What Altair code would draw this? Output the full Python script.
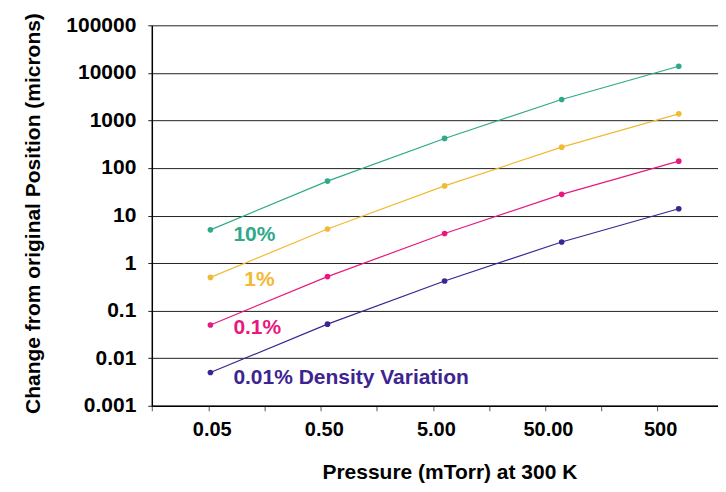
import altair as alt
import pandas as pd

# ---- data ----
pressure = [0.05, 0.5, 5, 50, 500]
series = ["10%", "1%", "0.1%", "0.01%"]
vals_10 = [5.0, 53, 418, 2750, 13800]
vals_1 = [0.50, 5.2, 42, 274, 1375]
vals_01 = [0.050, 0.52, 4.2, 27.9, 139]
vals_001 = [0.0050, 0.052, 0.42, 2.78, 13.9]
label_texts = ["10%", "1%", "0.1%", "0.01% Density Variation"]
colors = ["#2EA98A", "#F2B933", "#E8197E", "#3D2490"]
x_tick_labels = ["0.05", "0.50", "5.00", "50.00", "500"]
y_ticks = [0.001, 0.01, 0.1, 1, 10, 100, 1000, 10000, 100000]

FONT = "Liberation Sans"

all_vals = [vals_10, vals_1, vals_01, vals_001]
rows = []
for s, lab, vs in zip(series, label_texts, all_vals):
    for p, v in zip(pressure, vs):
        rows.append({"pressure": p, "value": v, "series": s, "label": lab})
df = pd.DataFrame(rows)
first_df = df[df["pressure"] == pressure[0]].reset_index(drop=True)

PLOT_W = 567
PLOT_H = 381

# data x scale (points spaced ~117 px per decade)
dec_data = 117.25
x_data_scale = alt.Scale(
    type="log",
    domain=[pressure[0] / 10 ** (58.7 / dec_data), pressure[-1] * 10 ** ((PLOT_W - 527.7) / dec_data)],
    nice=False,
)
# axis x scale (labels spaced ~112 px per decade, as in the reference)
dec_axis = 112.25
ax_min = pressure[0] / 10 ** (57 / dec_axis)
ax_max = pressure[-1] * 10 ** ((PLOT_W - 506) / dec_axis)
x_axis_scale = alt.Scale(type="log", domain=[ax_min, ax_max], nice=False)

tick_vals = [ax_min]
for p in pressure:
    tick_vals.append(p)
    if p != pressure[-1]:
        tick_vals.append(p * 10 ** 0.5)

vals_js = "[" + ",".join(repr(float(p)) for p in pressure) + "]"
labs_js = "[" + ",".join("'" + t + "'" for t in x_tick_labels) + "]"
label_expr = f"indexof({vals_js}, datum.value) >= 0 ? {labs_js}[indexof({vals_js}, datum.value)] : ''"

color_scale = alt.Scale(domain=series, range=colors)

y_enc = alt.Y(
    "value:Q",
    scale=alt.Scale(type="log", domain=[y_ticks[0], y_ticks[-1]], nice=False),
    axis=alt.Axis(
        values=y_ticks,
        format="~g",
        title="Change from original Position (microns)",
        grid=True,
        gridColor="#222222",
        gridWidth=1,
        domainColor="#000000",
        domainWidth=1.5,
        tickColor="#222222",
        tickSize=4,
        labelFont=FONT,
        labelFontSize=21,
        labelFontWeight="bold",
        labelColor="#000000",
        labelPadding=12,
        titleFont=FONT,
        titleFontSize=21,
        titleFontWeight="bold",
        titleColor="#000000",
        titlePadding=22,
        titleY=188,
    ),
)

x_data = alt.X("pressure:Q", scale=x_data_scale, axis=None)

axis_df = pd.DataFrame({"pressure": pressure})
axis_layer = alt.Chart(axis_df).mark_point(opacity=0).encode(
    x=alt.X(
        "pressure:Q",
        scale=x_axis_scale,
        axis=alt.Axis(
            orient="bottom",
            values=tick_vals,
            labelExpr=label_expr,
            title="Pressure (mTorr) at 300 K",
            grid=False,
            domainColor="#000000",
            domainWidth=1.5,
            tickColor="#555555",
            tickSize=5,
            labelFont=FONT,
            labelFontSize=20,
            labelFontWeight="bold",
            labelColor="#000000",
            labelPadding=9,
            labelOffset=3,
            titleFont=FONT,
            titleFontSize=21,
            titleFontWeight="bold",
            titleColor="#000000",
            titlePadding=22,
            titleX=298,
        ),
    ),
    y=alt.value(0),
)

base = alt.Chart(df).encode(
    x=x_data,
    y=y_enc,
    color=alt.Color("series:N", scale=color_scale, legend=None),
)
lines = base.mark_line(strokeWidth=1.2)
points = base.mark_circle(size=32, opacity=1)

label_dx = [23, 34, 23, 23]
label_dy = [5, 3, 3, 5]
text_layers = []
for s, c, dx, dy in zip(series, colors, label_dx, label_dy):
    t = (
        alt.Chart(first_df)
        .transform_filter(alt.datum.series == s)
        .mark_text(
            align="left",
            baseline="middle",
            dx=dx,
            dy=dy,
            font=FONT,
            fontSize=21,
            fontWeight="bold",
            color=c,
        )
        .encode(x=x_data, y=alt.Y("value:Q"), text="label:N")
    )
    text_layers.append(t)

chart = (
    alt.layer(axis_layer, lines, points, *text_layers)
    .resolve_scale(x="independent")
    .properties(
        width=PLOT_W,
        height=PLOT_H,
        padding={"left": 14, "top": 4, "right": 0, "bottom": 0},
        background="#ffffff",
    )
    .configure_view(strokeWidth=0)
)

chart.save("out.html", embed_options={"renderer": "svg", "actions": False})
